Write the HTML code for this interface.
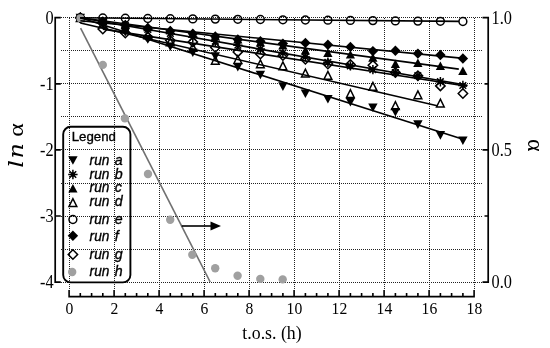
<!DOCTYPE html>
<html lang="en"><head><meta charset="utf-8"><title>ln α vs t.o.s.</title>
<style>html,body{margin:0;padding:0;background:#fff}svg{display:block}</style></head>
<body>
<svg width="550" height="348" viewBox="0 0 550 348">
<rect width="550" height="348" fill="#fff"/>
<path d="M61 17.5H482M61 50.5H482M61 83.5H482M61 116.5H482M61 149.5H482M61 183.5H482M61 216.5H482M61 249.5H482M61 282.5H482M69.5 18V290M114.5 18V290M159.5 18V290M204.5 18V290M249.5 18V290M294.5 18V290M339.5 18V290M384.5 18V290M429.5 18V290M474.5 18V290" stroke="#222" stroke-width="1" stroke-dasharray="1 1" fill="none"/>
<path d="M80.6 28.2L210.2 282" stroke="#707070" stroke-width="1.6" fill="none"/>
<circle cx="102.8" cy="64.9" r="4.2" fill="#a0a0a0"/>
<circle cx="124.9" cy="118.4" r="4.2" fill="#a0a0a0"/>
<circle cx="148.0" cy="174.0" r="4.2" fill="#a0a0a0"/>
<circle cx="170.2" cy="219.8" r="4.2" fill="#a0a0a0"/>
<circle cx="192.3" cy="254.7" r="4.2" fill="#a0a0a0"/>
<circle cx="215.2" cy="268.2" r="4.2" fill="#a0a0a0"/>
<circle cx="237.6" cy="275.8" r="4.2" fill="#a0a0a0"/>
<circle cx="260.3" cy="278.9" r="4.2" fill="#a0a0a0"/>
<circle cx="282.7" cy="279.4" r="4.2" fill="#a0a0a0"/>
<path d="M75.6 13.7H85.0L80.3 22.3Z" fill="#000"/>
<path d="M98.1 20.9H107.5L102.8 29.5Z" fill="#000"/>
<path d="M120.6 28.0H130.0L125.3 36.6Z" fill="#000"/>
<path d="M143.2 35.1H152.5L147.8 43.7Z" fill="#000"/>
<path d="M165.7 42.4H175.0L170.3 51.0Z" fill="#000"/>
<path d="M188.2 48.4H197.5L192.8 57.0Z" fill="#000"/>
<path d="M210.7 52.2H220.0L215.3 60.8Z" fill="#000"/>
<path d="M233.2 62.9H242.5L237.8 71.5Z" fill="#000"/>
<path d="M255.7 70.7H265.1L260.4 79.3Z" fill="#000"/>
<path d="M278.2 82.3H287.6L282.9 90.9Z" fill="#000"/>
<path d="M300.7 89.5H310.1L305.4 98.1Z" fill="#000"/>
<path d="M323.2 95.0H332.6L327.9 103.6Z" fill="#000"/>
<path d="M345.7 97.9H355.1L350.4 106.5Z" fill="#000"/>
<path d="M368.2 103.5H377.6L372.9 112.1Z" fill="#000"/>
<path d="M390.7 107.9H400.1L395.4 116.5Z" fill="#000"/>
<path d="M413.2 120.3H422.6L417.9 128.9Z" fill="#000"/>
<path d="M435.7 131.1H445.1L440.4 139.7Z" fill="#000"/>
<path d="M458.2 136.5H467.6L462.9 145.1Z" fill="#000"/>
<path d="M80.3 13.1L80.3 22.5M83.7 14.5L77.0 21.1M85.0 17.8L75.6 17.8M83.7 21.1L77.0 14.5" stroke="#000" stroke-width="1.5" fill="none"/><circle cx="80.3" cy="17.8" r="2.3" fill="#000"/>
<path d="M102.8 17.0L102.8 26.4M106.2 18.4L99.5 25.0M107.5 21.7L98.1 21.7M106.2 25.0L99.5 18.4" stroke="#000" stroke-width="1.5" fill="none"/><circle cx="102.8" cy="21.7" r="2.3" fill="#000"/>
<path d="M125.3 20.9L125.3 30.3M128.7 22.3L122.0 28.9M130.0 25.6L120.6 25.6M128.7 28.9L122.0 22.3" stroke="#000" stroke-width="1.5" fill="none"/><circle cx="125.3" cy="25.6" r="2.3" fill="#000"/>
<path d="M147.8 24.8L147.8 34.2M151.2 26.2L144.5 32.8M152.5 29.5L143.2 29.5M151.2 32.8L144.5 26.2" stroke="#000" stroke-width="1.5" fill="none"/><circle cx="147.8" cy="29.5" r="2.3" fill="#000"/>
<path d="M170.3 28.7L170.3 38.1M173.7 30.1L167.0 36.8M175.0 33.4L165.7 33.4M173.7 36.8L167.0 30.1" stroke="#000" stroke-width="1.5" fill="none"/><circle cx="170.3" cy="33.4" r="2.3" fill="#000"/>
<path d="M192.8 32.6L192.8 42.0M196.2 34.0L189.5 40.7M197.5 37.3L188.2 37.3M196.2 40.7L189.5 34.0" stroke="#000" stroke-width="1.5" fill="none"/><circle cx="192.8" cy="37.3" r="2.3" fill="#000"/>
<path d="M215.3 36.5L215.3 45.9M218.7 37.9L212.0 44.6M220.0 41.2L210.7 41.2M218.7 44.6L212.0 37.9" stroke="#000" stroke-width="1.5" fill="none"/><circle cx="215.3" cy="41.2" r="2.3" fill="#000"/>
<path d="M237.8 40.5L237.8 49.9M241.2 41.8L234.5 48.5M242.5 45.2L233.2 45.2M241.2 48.5L234.5 41.8" stroke="#000" stroke-width="1.5" fill="none"/><circle cx="237.8" cy="45.2" r="2.3" fill="#000"/>
<path d="M260.4 44.4L260.4 53.8M263.7 45.7L257.0 52.4M265.1 49.1L255.7 49.1M263.7 52.4L257.0 45.7" stroke="#000" stroke-width="1.5" fill="none"/><circle cx="260.4" cy="49.1" r="2.3" fill="#000"/>
<path d="M282.9 48.3L282.9 57.7M286.2 49.7L279.5 56.3M287.6 53.0L278.2 53.0M286.2 56.3L279.5 49.7" stroke="#000" stroke-width="1.5" fill="none"/><circle cx="282.9" cy="53.0" r="2.3" fill="#000"/>
<path d="M305.4 52.2L305.4 61.6M308.7 53.6L302.0 60.2M310.1 56.9L300.7 56.9M308.7 60.2L302.0 53.6" stroke="#000" stroke-width="1.5" fill="none"/><circle cx="305.4" cy="56.9" r="2.3" fill="#000"/>
<path d="M327.9 57.6L327.9 67.0M331.2 59.0L324.5 65.6M332.6 62.3L323.2 62.3M331.2 65.6L324.5 59.0" stroke="#000" stroke-width="1.5" fill="none"/><circle cx="327.9" cy="62.3" r="2.3" fill="#000"/>
<path d="M350.4 61.2L350.4 70.6M353.7 62.6L347.0 69.2M355.1 65.9L345.7 65.9M353.7 69.2L347.0 62.6" stroke="#000" stroke-width="1.5" fill="none"/><circle cx="350.4" cy="65.9" r="2.3" fill="#000"/>
<path d="M372.9 64.9L372.9 74.3M376.2 66.3L369.5 72.9M377.6 69.6L368.2 69.6M376.2 72.9L369.5 66.3" stroke="#000" stroke-width="1.5" fill="none"/><circle cx="372.9" cy="69.6" r="2.3" fill="#000"/>
<path d="M395.4 67.8L395.4 77.2M398.7 69.2L392.0 75.8M400.1 72.5L390.7 72.5M398.7 75.8L392.0 69.2" stroke="#000" stroke-width="1.5" fill="none"/><circle cx="395.4" cy="72.5" r="2.3" fill="#000"/>
<path d="M417.9 71.0L417.9 80.4M421.2 72.4L414.5 79.0M422.6 75.7L413.2 75.7M421.2 79.0L414.5 72.4" stroke="#000" stroke-width="1.5" fill="none"/><circle cx="417.9" cy="75.7" r="2.3" fill="#000"/>
<path d="M440.4 77.0L440.4 86.4M443.7 78.4L437.0 85.0M445.1 81.7L435.7 81.7M443.7 85.0L437.0 78.4" stroke="#000" stroke-width="1.5" fill="none"/><circle cx="440.4" cy="81.7" r="2.3" fill="#000"/>
<path d="M462.9 80.8L462.9 90.2M466.2 82.2L459.5 88.8M467.6 85.5L458.2 85.5M466.2 88.8L459.5 82.2" stroke="#000" stroke-width="1.5" fill="none"/><circle cx="462.9" cy="85.5" r="2.3" fill="#000"/>
<path d="M75.8 22.0H84.9L80.3 13.6Z" fill="#000"/>
<path d="M98.2 25.1H107.4L102.8 16.7Z" fill="#000"/>
<path d="M120.8 28.1H129.9L125.3 19.7Z" fill="#000"/>
<path d="M143.2 31.2H152.4L147.8 22.8Z" fill="#000"/>
<path d="M165.8 34.2H174.9L170.3 25.8Z" fill="#000"/>
<path d="M188.2 37.3H197.4L192.8 28.9Z" fill="#000"/>
<path d="M210.8 40.3H219.9L215.3 31.9Z" fill="#000"/>
<path d="M233.2 43.4H242.4L237.8 35.0Z" fill="#000"/>
<path d="M255.8 46.4H265.0L260.4 38.0Z" fill="#000"/>
<path d="M278.2 49.5H287.5L282.9 41.1Z" fill="#000"/>
<path d="M300.8 54.5H310.0L305.4 46.1Z" fill="#000"/>
<path d="M323.2 56.9H332.5L327.9 48.5Z" fill="#000"/>
<path d="M345.8 58.6H355.0L350.4 50.2Z" fill="#000"/>
<path d="M368.2 61.7H377.5L372.9 53.3Z" fill="#000"/>
<path d="M390.8 68.0H400.0L395.4 59.6Z" fill="#000"/>
<path d="M413.2 67.0H422.5L417.9 58.6Z" fill="#000"/>
<path d="M435.8 70.0H445.0L440.4 61.6Z" fill="#000"/>
<path d="M458.2 75.0H467.5L462.9 66.6Z" fill="#000"/>
<path d="M76.4 21.5H84.2L80.3 13.7Z" fill="none" stroke="#000" stroke-width="1.5"/>
<path d="M98.9 27.7H106.8L102.8 19.9Z" fill="none" stroke="#000" stroke-width="1.5"/>
<path d="M121.4 32.7H129.2L125.3 24.9Z" fill="none" stroke="#000" stroke-width="1.5"/>
<path d="M143.9 38.7H151.8L147.8 30.9Z" fill="none" stroke="#000" stroke-width="1.5"/>
<path d="M166.4 45.7H174.2L170.3 37.9Z" fill="none" stroke="#000" stroke-width="1.5"/>
<path d="M188.9 51.2H196.8L192.8 43.4Z" fill="none" stroke="#000" stroke-width="1.5"/>
<path d="M211.4 64.2H219.2L215.3 56.4Z" fill="none" stroke="#000" stroke-width="1.5"/>
<path d="M233.9 63.5H241.8L237.8 55.7Z" fill="none" stroke="#000" stroke-width="1.5"/>
<path d="M256.5 67.7H264.2L260.4 59.9Z" fill="none" stroke="#000" stroke-width="1.5"/>
<path d="M279.0 69.7H286.8L282.9 61.9Z" fill="none" stroke="#000" stroke-width="1.5"/>
<path d="M301.5 77.0H309.2L305.4 69.2Z" fill="none" stroke="#000" stroke-width="1.5"/>
<path d="M324.0 79.2H331.8L327.9 71.4Z" fill="none" stroke="#000" stroke-width="1.5"/>
<path d="M346.5 97.5H354.2L350.4 89.7Z" fill="none" stroke="#000" stroke-width="1.5"/>
<path d="M369.0 90.2H376.8L372.9 82.4Z" fill="none" stroke="#000" stroke-width="1.5"/>
<path d="M391.5 109.5H399.2L395.4 101.7Z" fill="none" stroke="#000" stroke-width="1.5"/>
<path d="M414.0 98.7H421.8L417.9 90.9Z" fill="none" stroke="#000" stroke-width="1.5"/>
<path d="M436.5 106.9H444.2L440.4 99.1Z" fill="none" stroke="#000" stroke-width="1.5"/>
<circle cx="80.3" cy="17.8" r="3.9" fill="none" stroke="#000" stroke-width="1.5"/>
<circle cx="102.8" cy="18.0" r="3.9" fill="none" stroke="#000" stroke-width="1.5"/>
<circle cx="125.3" cy="18.2" r="3.9" fill="none" stroke="#000" stroke-width="1.5"/>
<circle cx="147.8" cy="18.5" r="3.9" fill="none" stroke="#000" stroke-width="1.5"/>
<circle cx="170.3" cy="18.7" r="3.9" fill="none" stroke="#000" stroke-width="1.5"/>
<circle cx="192.8" cy="18.9" r="3.9" fill="none" stroke="#000" stroke-width="1.5"/>
<circle cx="215.3" cy="19.1" r="3.9" fill="none" stroke="#000" stroke-width="1.5"/>
<circle cx="237.8" cy="19.3" r="3.9" fill="none" stroke="#000" stroke-width="1.5"/>
<circle cx="260.4" cy="19.5" r="3.9" fill="none" stroke="#000" stroke-width="1.5"/>
<circle cx="282.9" cy="19.8" r="3.9" fill="none" stroke="#000" stroke-width="1.5"/>
<circle cx="305.4" cy="20.0" r="3.9" fill="none" stroke="#000" stroke-width="1.5"/>
<circle cx="327.9" cy="20.2" r="3.9" fill="none" stroke="#000" stroke-width="1.5"/>
<circle cx="350.4" cy="20.4" r="3.9" fill="none" stroke="#000" stroke-width="1.5"/>
<circle cx="372.9" cy="20.6" r="3.9" fill="none" stroke="#000" stroke-width="1.5"/>
<circle cx="395.4" cy="20.9" r="3.9" fill="none" stroke="#000" stroke-width="1.5"/>
<circle cx="417.9" cy="21.1" r="3.9" fill="none" stroke="#000" stroke-width="1.5"/>
<circle cx="440.4" cy="21.3" r="3.9" fill="none" stroke="#000" stroke-width="1.5"/>
<circle cx="462.9" cy="21.5" r="3.9" fill="none" stroke="#000" stroke-width="1.5"/>
<path d="M75.1 17.8L80.3 12.6L85.5 17.8L80.3 23.0Z" fill="#000"/>
<path d="M97.6 21.5L102.8 16.3L108.0 21.5L102.8 26.7Z" fill="#000"/>
<path d="M120.1 25.0L125.3 19.8L130.5 25.0L125.3 30.2Z" fill="#000"/>
<path d="M142.7 28.0L147.8 22.8L153.0 28.0L147.8 33.2Z" fill="#000"/>
<path d="M165.2 30.9L170.3 25.7L175.5 30.9L170.3 36.1Z" fill="#000"/>
<path d="M187.7 33.8L192.8 28.6L198.0 33.8L192.8 39.0Z" fill="#000"/>
<path d="M210.2 36.5L215.3 31.3L220.5 36.5L215.3 41.7Z" fill="#000"/>
<path d="M232.7 39.5L237.8 34.3L243.0 39.5L237.8 44.7Z" fill="#000"/>
<path d="M255.2 41.2L260.4 36.0L265.6 41.2L260.4 46.4Z" fill="#000"/>
<path d="M277.7 43.6L282.9 38.4L288.1 43.6L282.9 48.8Z" fill="#000"/>
<path d="M300.2 42.9L305.4 37.7L310.6 42.9L305.4 48.1Z" fill="#000"/>
<path d="M322.7 44.8L327.9 39.6L333.1 44.8L327.9 50.0Z" fill="#000"/>
<path d="M345.2 46.9L350.4 41.7L355.6 46.9L350.4 52.1Z" fill="#000"/>
<path d="M367.7 51.1L372.9 45.9L378.1 51.1L372.9 56.3Z" fill="#000"/>
<path d="M390.2 50.7L395.4 45.5L400.6 50.7L395.4 55.9Z" fill="#000"/>
<path d="M412.7 53.6L417.9 48.4L423.1 53.6L417.9 58.8Z" fill="#000"/>
<path d="M435.2 55.0L440.4 49.8L445.6 55.0L440.4 60.2Z" fill="#000"/>
<path d="M457.7 58.5L462.9 53.3L468.1 58.5L462.9 63.7Z" fill="#000"/>
<path d="M75.6 17.8L80.3 13.1L85.0 17.8L80.3 22.5Z" fill="none" stroke="#000" stroke-width="1.5"/>
<path d="M98.1 29.0L102.8 24.3L107.5 29.0L102.8 33.7Z" fill="none" stroke="#000" stroke-width="1.5"/>
<path d="M120.6 33.0L125.3 28.3L130.0 33.0L125.3 37.7Z" fill="none" stroke="#000" stroke-width="1.5"/>
<path d="M143.2 37.0L147.8 32.3L152.5 37.0L147.8 41.7Z" fill="none" stroke="#000" stroke-width="1.5"/>
<path d="M165.7 40.5L170.3 35.8L175.0 40.5L170.3 45.2Z" fill="none" stroke="#000" stroke-width="1.5"/>
<path d="M188.2 41.9L192.8 37.2L197.5 41.9L192.8 46.6Z" fill="none" stroke="#000" stroke-width="1.5"/>
<path d="M210.7 47.5L215.3 42.8L220.0 47.5L215.3 52.2Z" fill="none" stroke="#000" stroke-width="1.5"/>
<path d="M233.2 51.9L237.8 47.2L242.5 51.9L237.8 56.6Z" fill="none" stroke="#000" stroke-width="1.5"/>
<path d="M255.7 54.1L260.4 49.4L265.1 54.1L260.4 58.8Z" fill="none" stroke="#000" stroke-width="1.5"/>
<path d="M278.2 55.5L282.9 50.8L287.6 55.5L282.9 60.2Z" fill="none" stroke="#000" stroke-width="1.5"/>
<path d="M300.7 59.3L305.4 54.6L310.1 59.3L305.4 64.0Z" fill="none" stroke="#000" stroke-width="1.5"/>
<path d="M323.2 64.0L327.9 59.3L332.6 64.0L327.9 68.7Z" fill="none" stroke="#000" stroke-width="1.5"/>
<path d="M345.7 64.5L350.4 59.8L355.1 64.5L350.4 69.2Z" fill="none" stroke="#000" stroke-width="1.5"/>
<path d="M368.2 65.3L372.9 60.6L377.6 65.3L372.9 70.0Z" fill="none" stroke="#000" stroke-width="1.5"/>
<path d="M390.7 72.5L395.4 67.8L400.1 72.5L395.4 77.2Z" fill="none" stroke="#000" stroke-width="1.5"/>
<path d="M413.2 75.7L417.9 71.0L422.6 75.7L417.9 80.4Z" fill="none" stroke="#000" stroke-width="1.5"/>
<path d="M435.7 85.9L440.4 81.2L445.1 85.9L440.4 90.6Z" fill="none" stroke="#000" stroke-width="1.5"/>
<path d="M458.2 93.5L462.9 88.8L467.6 93.5L462.9 98.2Z" fill="none" stroke="#000" stroke-width="1.5"/>
<circle cx="80.3" cy="18.2" r="3.9" fill="#a0a0a0"/>
<path d="M80.4 17.8L463.0 139.3" stroke="#000" stroke-width="1.6" fill="none"/>
<path d="M80.4 17.8L467.0 85.2" stroke="#000" stroke-width="1.6" fill="none"/>
<path d="M80.4 17.8L458.8 69.1" stroke="#000" stroke-width="1.6" fill="none"/>
<path d="M80.4 23.0L437.2 105.8" stroke="#000" stroke-width="1.6" fill="none"/>
<path d="M80.4 17.8L459.0 21.4" stroke="#000" stroke-width="1.6" fill="none"/>
<path d="M80.4 20.8L461.0 58.1" stroke="#000" stroke-width="1.6" fill="none"/>
<path d="M102.9 29.1L467.0 86.3" stroke="#000" stroke-width="1.6" fill="none"/>
<path d="M181.7 226H212" stroke="#000" stroke-width="1.6" fill="none"/><path d="M210.5 221.5L221 226L210.5 230.5Z" fill="#000"/>
<path d="M60.8 17.7H55.2V282.1H60.8M55.2 83.8H60.8M55.2 149.9H60.8M55.2 216.0H60.8M482.5 17.7H488.2V282.1H482.5M488.2 83.8H484.5M488.2 149.9H482.5M488.2 216.0H484.5" stroke="#000" stroke-width="1.7" fill="none" stroke-linejoin="miter"/>
<path d="M68.3 296.6H474.9M69.1 297V290M80.3 297V293M91.6 297V293M102.8 297V293M114.1 297V290M125.3 297V293M136.6 297V293M147.8 297V293M159.1 297V290M170.3 297V293M181.6 297V293M192.8 297V293M204.1 297V290M215.3 297V293M226.6 297V293M237.8 297V293M249.1 297V290M260.4 297V293M271.6 297V293M282.9 297V293M294.1 297V290M305.4 297V293M316.6 297V293M327.9 297V293M339.1 297V290M350.4 297V293M361.6 297V293M372.9 297V293M384.1 297V290M395.4 297V293M406.6 297V293M417.9 297V293M429.1 297V290M440.4 297V293M451.6 297V293M462.9 297V293M474.1 297V290" stroke="#000" stroke-width="1.6" fill="none"/>
<rect x="63.2" y="126.8" width="67.2" height="155.6" rx="7.5" ry="7.5" fill="none" stroke="#000" stroke-width="1.9"/>
<g font-family="'Liberation Sans', Arial, sans-serif" font-size="14.2" fill="#000" stroke="#000" stroke-width="0.35">
<text x="71.7" y="141" font-size="13.4" textLength="44.2" lengthAdjust="spacingAndGlyphs">Legend</text>
<text x="89.6" y="164.6" font-style="italic" textLength="19.8" lengthAdjust="spacingAndGlyphs">run</text><text x="114.7" y="164.6" font-style="italic">a</text>
<text x="89.6" y="178.8" font-style="italic" textLength="19.8" lengthAdjust="spacingAndGlyphs">run</text><text x="114.7" y="178.8" font-style="italic">b</text>
<text x="89.6" y="192.3" font-style="italic" textLength="19.8" lengthAdjust="spacingAndGlyphs">run</text><text x="114.7" y="192.3" font-style="italic">c</text>
<text x="89.6" y="206.2" font-style="italic" textLength="19.8" lengthAdjust="spacingAndGlyphs">run</text><text x="114.7" y="206.2" font-style="italic">d</text>
<text x="89.6" y="224.2" font-style="italic" textLength="19.8" lengthAdjust="spacingAndGlyphs">run</text><text x="114.7" y="224.2" font-style="italic">e</text>
<text x="89.6" y="240.6" font-style="italic" textLength="19.8" lengthAdjust="spacingAndGlyphs">run</text><text x="114.7" y="240.6" font-style="italic">f</text>
<text x="89.6" y="258.9" font-style="italic" textLength="19.8" lengthAdjust="spacingAndGlyphs">run</text><text x="114.7" y="258.9" font-style="italic">g</text>
<text x="89.6" y="276.4" font-style="italic" textLength="19.8" lengthAdjust="spacingAndGlyphs">run</text><text x="114.7" y="276.4" font-style="italic">h</text>
</g>
<path d="M68.2 156.2H77.6L72.9 164.8Z" fill="#000"/>
<path d="M72.9 169.8L72.9 179.2M76.2 171.2L69.6 177.8M77.6 174.5L68.2 174.5M76.2 177.8L69.6 171.2" stroke="#000" stroke-width="1.5" fill="none"/><circle cx="72.9" cy="174.5" r="2.3" fill="#000"/>
<path d="M68.3 192.5H77.5L72.9 184.1Z" fill="#000"/>
<path d="M69.0 206.5H76.8L72.9 198.7Z" fill="none" stroke="#000" stroke-width="1.5"/>
<circle cx="72.9" cy="219.5" r="3.9" fill="none" stroke="#000" stroke-width="1.5"/>
<path d="M67.7 235.8L72.9 230.6L78.1 235.8L72.9 241.0Z" fill="#000"/>
<path d="M68.2 254.5L72.9 249.8L77.6 254.5L72.9 259.2Z" fill="none" stroke="#000" stroke-width="1.5"/>
<circle cx="72.2" cy="272.0" r="4.2" fill="#a0a0a0"/>
<g font-family="'Liberation Serif', 'Times New Roman', serif" font-size="18.3" fill="#000">
<text transform="translate(53.6 23.7) scale(0.89 1)" text-anchor="end">0</text>
<text transform="translate(53.6 89.8) scale(0.89 1)" text-anchor="end">-1</text>
<text transform="translate(53.6 155.9) scale(0.89 1)" text-anchor="end">-2</text>
<text transform="translate(53.6 222.0) scale(0.89 1)" text-anchor="end">-3</text>
<text transform="translate(53.6 288.1) scale(0.89 1)" text-anchor="end">-4</text>
<text transform="translate(491.6 23.9) scale(0.89 1)">1.0</text>
<text transform="translate(491.6 156.1) scale(0.89 1)">0.5</text>
<text transform="translate(491.6 288.3) scale(0.89 1)">0.0</text>
<text transform="translate(69.4 314.1) scale(0.9 1)" text-anchor="middle" font-size="17.4">0</text>
<text transform="translate(114.4 314.1) scale(0.9 1)" text-anchor="middle" font-size="17.4">2</text>
<text transform="translate(159.4 314.1) scale(0.9 1)" text-anchor="middle" font-size="17.4">4</text>
<text transform="translate(204.4 314.1) scale(0.9 1)" text-anchor="middle" font-size="17.4">6</text>
<text transform="translate(249.4 314.1) scale(0.9 1)" text-anchor="middle" font-size="17.4">8</text>
<text transform="translate(294.4 314.1) scale(0.9 1)" text-anchor="middle" font-size="17.4">10</text>
<text transform="translate(339.4 314.1) scale(0.9 1)" text-anchor="middle" font-size="17.4">12</text>
<text transform="translate(384.4 314.1) scale(0.9 1)" text-anchor="middle" font-size="17.4">14</text>
<text transform="translate(429.4 314.1) scale(0.9 1)" text-anchor="middle" font-size="17.4">16</text>
<text transform="translate(474.4 314.1) scale(0.9 1)" text-anchor="middle" font-size="17.4">18</text>
<text x="272" y="338.6" text-anchor="middle" font-size="17.8">t.o.s. (h)</text>
</g>
<text transform="translate(23 167.8) rotate(-90) scale(1.2 1)" font-family="'DejaVu Serif', 'Liberation Serif', serif" font-size="20" font-style="italic" fill="#000" x="0 7.8">ln <tspan x="25.9" font-family="'Liberation Serif', serif" font-style="normal" font-size="21.5">α</tspan></text>
<text transform="translate(527.7 139) rotate(90)" font-family="'Liberation Serif', serif" font-size="24" fill="#000">α</text>
</svg>
</body></html>
